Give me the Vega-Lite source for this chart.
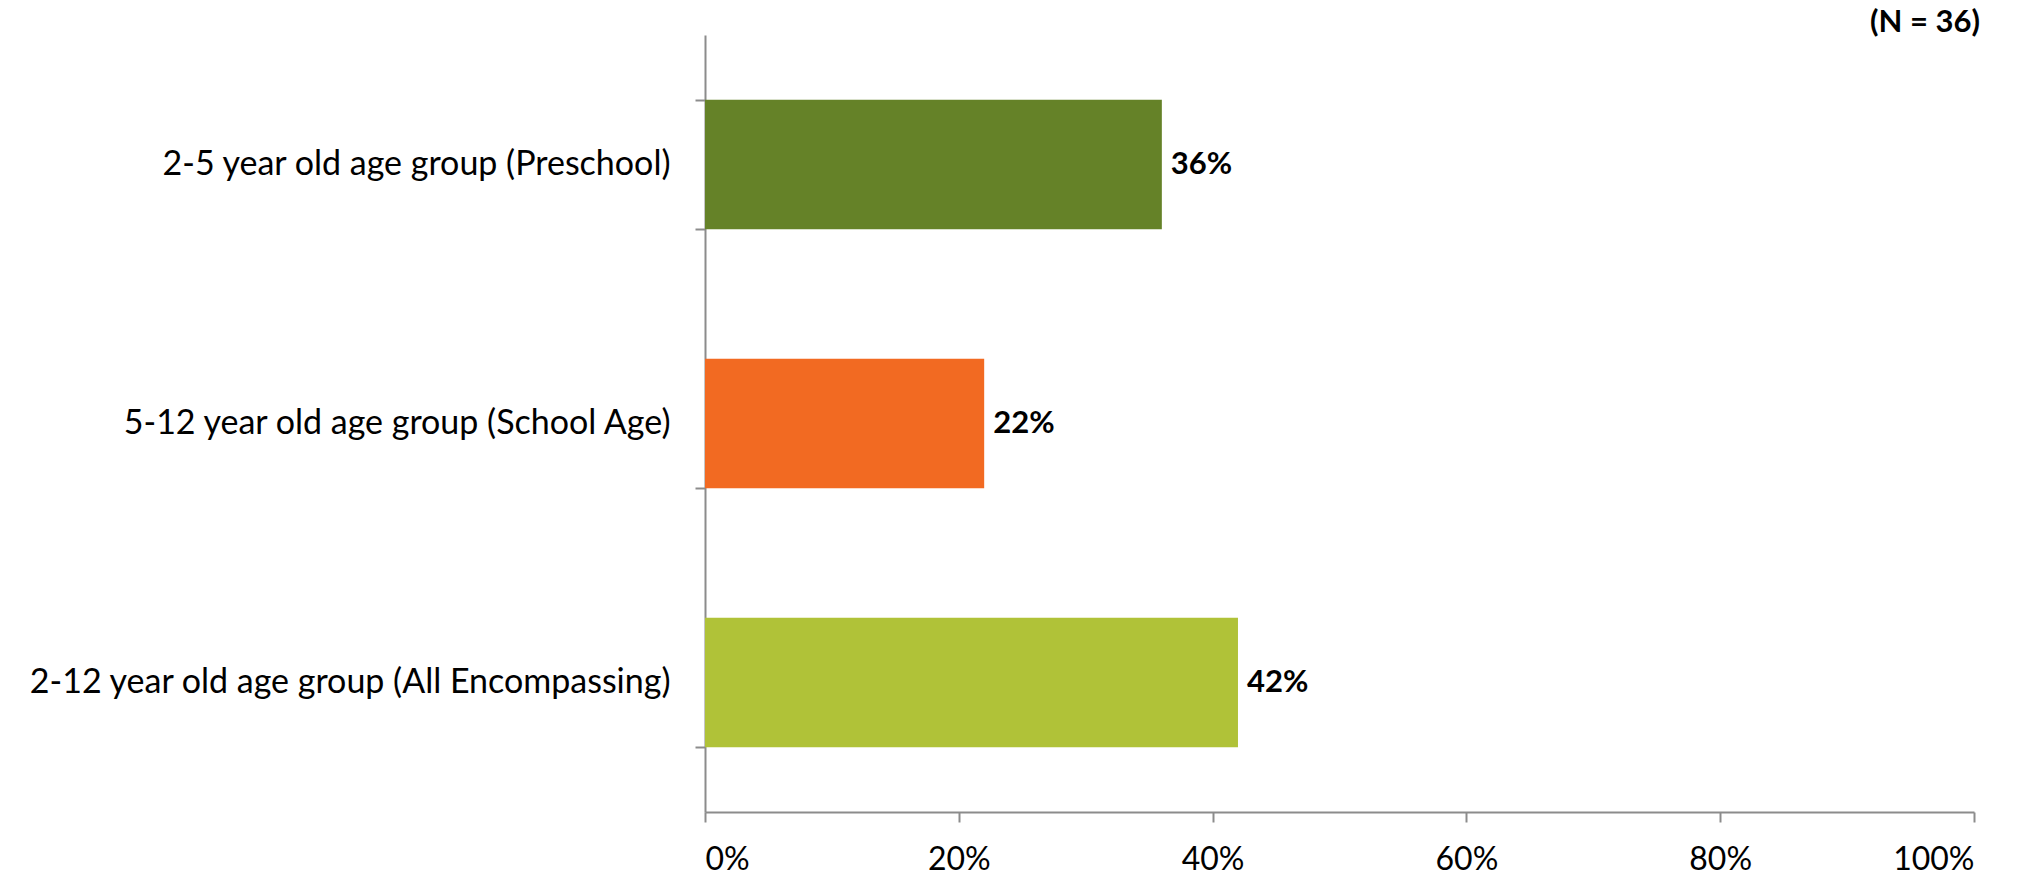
{
  "$schema": "https://vega.github.io/schema/vega-lite/v6.json",
  "autosize": "none",
  "width": 1269,
  "height": 777,
  "padding": {"left": 705, "top": 35, "right": 62, "bottom": 64},
  "background": "white",
  "config": {"view": {"stroke": null}, "font": "Lato"},
  "title": {
    "text": "(N = 36)",
    "anchor": "end",
    "frame": "group",
    "fontSize": 31,
    "fontWeight": "bold",
    "color": "#000000",
    "offset": -21,
    "dx": 6
  },
  "data": {
    "values": [
      {"group": "2-5 year old age group (Preschool)", "pct": 0.36},
      {"group": "5-12 year old age group (School Age)", "pct": 0.22},
      {"group": "2-12 year old age group (All Encompassing)", "pct": 0.42}
    ]
  },
  "encoding": {
    "y": {
      "field": "group",
      "type": "nominal",
      "sort": null,
      "scale": {"paddingInner": 0.5, "paddingOuter": 0.25},
      "axis": {
        "title": null,
        "tickBand": "extent",
        "domainColor": "#8c8c8c",
        "domainWidth": 2,
        "tickColor": "#8c8c8c",
        "tickWidth": 2,
        "tickSize": 10,
        "labelFontSize": 34,
        "labelColor": "#000000",
        "labelPadding": 25,
        "labelLimit": 800
      }
    },
    "x": {
      "field": "pct",
      "type": "quantitative",
      "scale": {"domain": [0, 1], "nice": false},
      "axis": {
        "title": null,
        "format": ".0%",
        "values": [0, 0.2, 0.4, 0.6, 0.8, 1],
        "grid": false,
        "domainColor": "#8c8c8c",
        "domainWidth": 2,
        "tickColor": "#8c8c8c",
        "tickWidth": 2,
        "tickSize": 10,
        "labelFontSize": 32,
        "labelColor": "#000000",
        "labelPadding": 22
      }
    }
  },
  "layer": [
    {
      "mark": {"type": "bar"},
      "encoding": {
        "color": {
          "field": "group",
          "type": "nominal",
          "legend": null,
          "scale": {
            "domain": [
              "2-5 year old age group (Preschool)",
              "5-12 year old age group (School Age)",
              "2-12 year old age group (All Encompassing)"
            ],
            "range": ["#658228", "#F26A22", "#B0C238"]
          }
        }
      }
    },
    {
      "mark": {"type": "text", "align": "left", "baseline": "middle", "dx": 9, "fontSize": 31, "fontWeight": "bold", "color": "#000000"},
      "encoding": {
        "text": {"field": "pct", "type": "quantitative", "format": ".0%"}
      }
    }
  ]
}
